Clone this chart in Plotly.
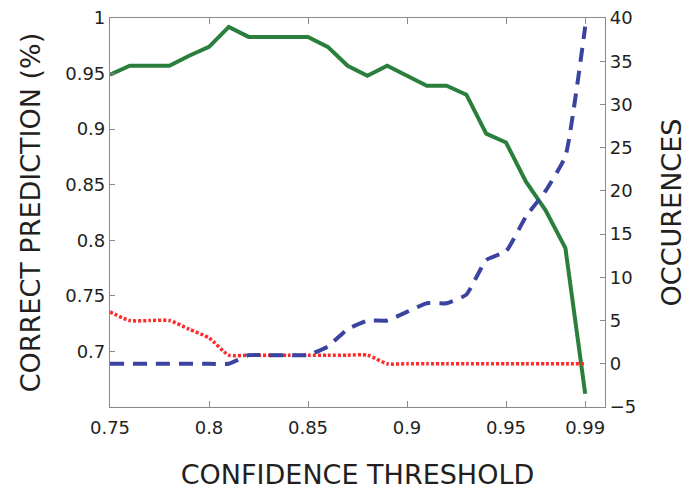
import plotly.graph_objects as go

thresholds = [0.75, 0.76, 0.77, 0.78, 0.79, 0.80, 0.81, 0.82, 0.83, 0.84, 0.85, 0.86,
              0.87, 0.88, 0.89, 0.90, 0.91, 0.92, 0.93, 0.94, 0.95, 0.96, 0.97, 0.98, 0.99]
correct_pred = [0.949, 0.957, 0.957, 0.957, 0.966, 0.974, 0.992, 0.983, 0.983, 0.983, 0.983, 0.974,
                0.957, 0.948, 0.957, 0.948, 0.939, 0.939, 0.931, 0.896, 0.888, 0.853, 0.827, 0.793, 0.662]
occ_blue = [0, 0, 0, 0, 0, 0, 0, 1, 1, 1, 1, 2,
            4, 5, 5, 6, 7, 7, 8, 12, 13, 17, 20, 24, 39]
occ_red = [6, 5, 5, 5, 4, 3, 1, 1, 1, 1, 1, 1,
           1, 1, 0, 0, 0, 0, 0, 0, 0, 0, 0, 0, 0]

x_ticks = [0.75, 0.8, 0.85, 0.9, 0.95, 0.99]
x_ticklabels = ["0.75", "0.8", "0.85", "0.9", "0.95", "0.99"]
y_ticks = [0.7, 0.75, 0.8, 0.85, 0.9, 0.95, 1.0]
y_ticklabels = ["0.7", "0.75", "0.8", "0.85", "0.9", "0.95", "1"]

FONT = "DejaVu Sans, sans-serif"
GRAY = "#8a8a8a"
TXT = "#231f20"

fig = go.Figure()
fig.add_trace(go.Scatter(x=thresholds, y=occ_red, mode="lines", yaxis="y2",
                         line=dict(color="#ff2a2a", width=3.5, dash="3px,2px", shape="spline", smoothing=0.6)))
fig.add_trace(go.Scatter(x=thresholds, y=occ_blue, mode="lines", yaxis="y2",
                         line=dict(color="#3a44a0", width=4, dash="14px,9px", shape="spline", smoothing=0.4)))
fig.add_trace(go.Scatter(x=thresholds, y=correct_pred, mode="lines", yaxis="y",
                         line=dict(color="#2a7f3c", width=4)))

fig.update_layout(
    width=688, height=490,
    margin=dict(l=110, r=83, t=18, b=83),
    paper_bgcolor="white", plot_bgcolor="white",
    showlegend=False,
    font=dict(family=FONT, color=TXT, size=18),
    xaxis=dict(range=[0.75, 1.0], tickvals=x_ticks, ticktext=x_ticklabels,
               showgrid=False, zeroline=False, showline=True, linecolor=GRAY, linewidth=1.2,
               mirror="ticks", ticks="inside", ticklen=6, tickcolor=GRAY,
               ticklabelstandoff=4, automargin=False,
               title=dict(text="CONFIDENCE THRESHOLD", font=dict(size=27), standoff=30),
               tickfont=dict(size=18)),
    yaxis=dict(range=[0.65, 1.0], tickvals=y_ticks, ticktext=y_ticklabels,
               showgrid=False, zeroline=False, showline=True, linecolor=GRAY, linewidth=1.2,
               mirror=True, ticks="inside", ticklen=5, tickcolor=GRAY, automargin=False,
               title=dict(text="CORRECT PREDICTION (%)", font=dict(size=27), standoff=16),
               tickfont=dict(size=18)),
    yaxis2=dict(range=[-5, 40], dtick=5, tick0=0, overlaying="y", side="right",
                showgrid=False, zeroline=False, showline=True, linecolor=GRAY, linewidth=1.2,
                ticks="inside", ticklen=5, tickcolor=GRAY, automargin=False,
                title=dict(text="OCCURENCES", font=dict(size=27), standoff=26),
                tickfont=dict(size=18)),
)

fig.write_html("out.html")
